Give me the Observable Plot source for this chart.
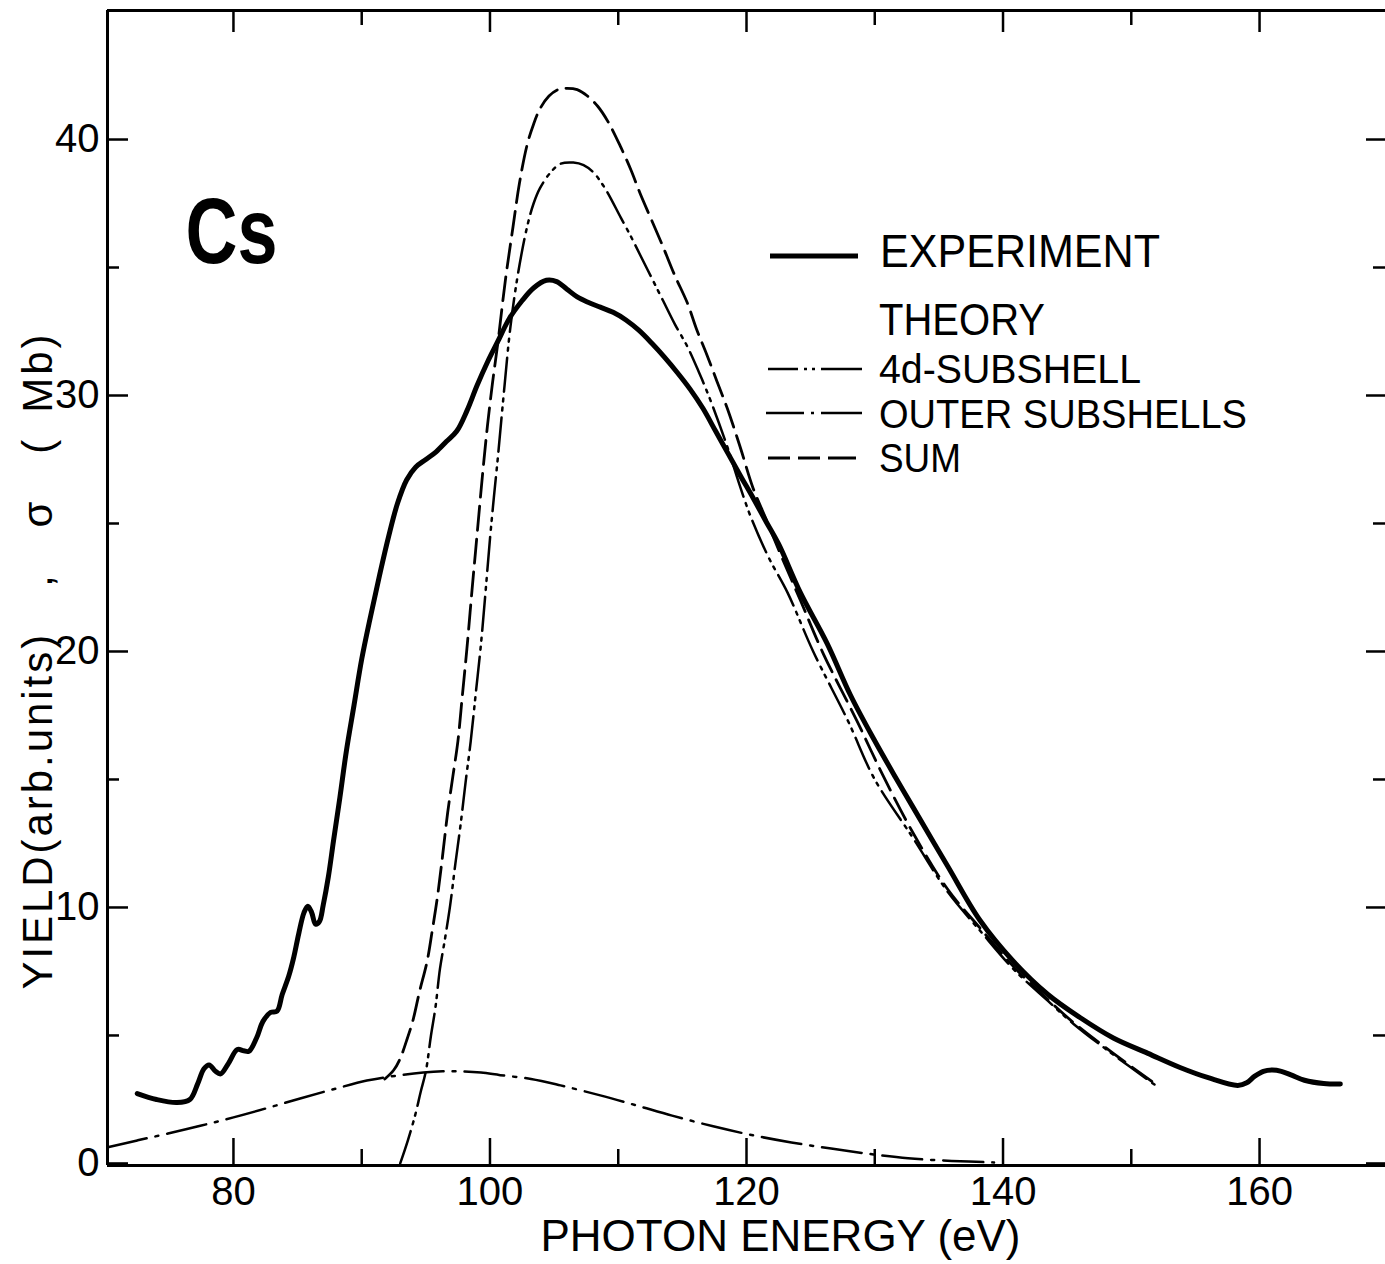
<!DOCTYPE html>
<html>
<head>
<meta charset="utf-8">
<script src="https://cdn.jsdelivr.net/npm/d3@7"></script>
<script src="https://cdn.jsdelivr.net/npm/@observablehq/plot@0.6"></script>
<style>
  html, body { margin: 0; padding: 0; background: #fff; }
  #chart svg { display: block; }
</style>
</head>
<body>
<div id="chart"></div>
<script>
// ---------------- DATA ----------------
// Experiment (photon energy eV, yield)
const expE = [72.5, 74.0, 75.6, 76.6, 77.2, 77.7, 78.1, 78.6, 79.0, 79.6, 80.3, 80.8, 81.2, 81.8, 82.3, 82.9, 83.4, 83.8, 84.3, 84.7, 85.1, 85.5, 85.8, 86.1, 86.4, 86.7, 87.0, 87.4, 87.8, 88.3, 88.8, 89.4, 90.0, 90.7, 91.4, 92.1, 92.8, 93.5, 94.2, 95.0, 95.8, 96.6, 97.4, 98.2, 99.0, 99.8, 100.6, 101.5, 102.5, 103.4, 104.4, 105.2, 106.0, 106.8, 107.6, 108.6, 109.6, 110.6, 111.6, 112.6, 113.6, 114.6, 115.6, 116.6, 117.6, 118.6, 119.6, 120.4, 121.5, 122.5, 124.2, 126.3, 128.1, 129.9, 131.6, 133.0, 135.7, 138.2, 140.8, 143.5, 146.0, 148.6, 151.3, 153.8, 156.0, 158.3, 159.0, 159.6, 160.3, 161.0, 161.7, 162.5, 163.5, 165.0, 166.3];
const expV = [2.73, 2.5, 2.38, 2.5, 3.1, 3.7, 3.85, 3.6, 3.5, 3.9, 4.45, 4.4, 4.38, 4.9, 5.55, 5.9, 5.95, 6.6, 7.3, 8.05, 9.0, 9.8, 10.05, 9.8, 9.35, 9.45, 10.1, 11.2, 12.6, 14.3, 16.1, 17.9, 19.7, 21.4, 23.0, 24.5, 25.8, 26.7, 27.2, 27.5, 27.8, 28.2, 28.6, 29.4, 30.4, 31.3, 32.1, 33.0, 33.7, 34.2, 34.5, 34.45, 34.15, 33.85, 33.65, 33.45, 33.25, 32.95, 32.55, 32.05, 31.5, 30.9, 30.25, 29.5, 28.6, 27.7, 26.8, 26.1, 25.1, 24.2, 22.3, 20.3, 18.3, 16.6, 15.1, 13.9, 11.6, 9.5, 7.9, 6.6, 5.7, 4.9, 4.3, 3.75, 3.35, 3.05, 3.15, 3.4, 3.6, 3.65, 3.6, 3.45, 3.25, 3.12, 3.1];

// Theory: 4d-subshell
const d4E = [93.0, 93.6, 94.2, 94.6, 95.0, 95.4, 95.75, 96.1, 96.5, 96.9, 97.3, 97.7, 98.1, 98.5, 98.9, 99.3, 99.65, 100.0, 100.3, 100.6, 101.1, 101.6, 102.2, 102.9, 103.4, 103.9, 104.7, 105.5, 106.5, 107.3, 108.1, 108.7, 109.2, 110.2, 111.0, 111.7, 112.6, 113.5, 114.4, 115.4, 116.3, 117.2, 118.5, 119.4, 120.3, 121.7, 123.2, 125.2, 127.9, 130.0, 133.0, 135.7, 138.2, 140.8, 143.5, 145.5, 148.6, 151.9];
const d4V = [0, 0.9, 1.95, 2.8, 3.6, 5.0, 6.1, 7.6, 8.8, 10.1, 11.7, 13.2, 14.9, 16.5, 18.4, 20.3, 22.3, 24.4, 26.0, 27.5, 30.2, 32.7, 34.8, 36.6, 37.5, 38.1, 38.7, 39.05, 39.1, 39.0, 38.7, 38.3, 37.9, 36.95, 36.2, 35.5, 34.6, 33.7, 32.8, 31.9, 30.9, 29.8, 28.0, 26.6, 25.3, 23.7, 22.3, 20.0, 17.3, 15.0, 12.7, 10.6, 9.1, 7.6, 6.35, 5.45, 4.25, 3.05];

// Theory: outer subshells
const outE = [70.2, 72.5, 74.9, 77.5, 80.0, 82.6, 85.2, 87.8, 90.4, 92.6, 94.8, 96.3, 97.7, 99.3, 100.8, 103.2, 105.5, 108.6, 111.4, 114.2, 117.4, 120.5, 123.5, 126.6, 129.6, 132.6, 136.0, 139.3];
const outV = [0.63, 0.9, 1.17, 1.48, 1.8, 2.16, 2.54, 2.9, 3.24, 3.42, 3.55, 3.6, 3.6, 3.55, 3.45, 3.3, 3.05, 2.66, 2.27, 1.87, 1.45, 1.1, 0.82, 0.58, 0.37, 0.2, 0.1, 0.04];

// Theory: sum
const sumE = [91.8, 92.5, 93.0, 93.5, 94.0, 94.5, 95.1, 95.5, 95.9, 96.3, 96.7, 97.1, 97.5, 97.85, 98.2, 98.6, 99.0, 99.4, 99.8, 100.2, 100.6, 101.2, 101.8, 102.3, 102.9, 103.4, 103.9, 104.6, 105.3, 106.0, 106.8, 107.6, 108.4, 109.2, 110.2, 111.0, 111.7, 112.6, 113.5, 114.4, 115.4, 116.1, 116.9, 117.7, 118.5, 119.5, 120.5, 121.5, 122.4, 124.2, 126.0, 128.6, 130.6, 133.0, 135.7, 138.2, 140.8, 143.5, 145.5, 148.6, 151.9];
const sumV = [3.3, 3.65, 4.1, 4.8, 5.6, 6.7, 7.9, 9.1, 10.4, 12.0, 13.7, 15.1, 16.5, 18.3, 20.1, 22.4, 24.6, 26.8, 28.8, 30.5, 32.0, 34.5, 36.6, 38.3, 39.8, 40.6, 41.2, 41.7, 41.95, 42.0, 41.95, 41.7, 41.3, 40.7, 39.7, 38.8, 37.9, 36.85, 35.8, 34.7, 33.6, 32.6, 31.6, 30.55, 29.5, 28.0, 26.4, 25.2, 24.1, 22.0, 19.9, 17.3, 15.2, 12.9, 10.7, 9.2, 7.7, 6.4, 5.5, 4.3, 3.1];

// Axes
const xTicksMajor = [80, 100, 120, 140, 160];
const xTicksMinor = [90, 110, 130, 150];
const yTicksMajor = [0, 10, 20, 30, 40];
const yTicksMinor = [5, 15, 25, 35];
const xDomain = [70.18, 169.82];
const yDomain = [-0.08, 45.04];

// Texts
const elementLabel = "Cs";
const xLabel = "PHOTON ENERGY (eV)";
const yLabel = "YIELD(arb.units)\u2003,\u2003σ\u2003(\u2002Mb)";
const legendLabels = ["EXPERIMENT", "THEORY", "4d-SUBSHELL", "OUTER SUBSHELLS", "SUM"];

// ---------------- LAYOUT / STYLE ----------------
const FONT = "'Liberation Sans', Arial, sans-serif";
const W = 1385, H = 1264;
const M = {left: 107, right: 0, top: 10, bottom: 99};
const plotW = W - M.left - M.right;
const plotH = H - M.top - M.bottom;
const DASH = {exp: null, d4: "34,7,3,6,3,7", out: "40,9,3,9", sum: "24,9"};

const rows = (E, V) => E.map((e, i) => ({e, v: V[i]}));
const expRows = rows(expE, expV);
const d4Rows = rows(d4E, d4V);
const outRows = rows(outE, outV);
const sumRows = rows(sumE, sumV);

const chart = Plot.plot({
  width: W, height: H,
  marginLeft: M.left, marginRight: M.right, marginTop: M.top, marginBottom: M.bottom,
  x: {domain: xDomain},
  y: {domain: yDomain},
  style: {fontFamily: FONT, color: "#000", background: "#fff", overflow: "visible"},
  marks: [
    // frame (left, top, bottom)
    Plot.ruleX([xDomain[0]], {stroke: "#000", strokeWidth: 3}),
    Plot.ruleY([yDomain[1]], {stroke: "#000", strokeWidth: 3}),
    Plot.ruleY([yDomain[0]], {stroke: "#000", strokeWidth: 3}),
    // inward ticks: bottom
    Plot.tickX(xTicksMajor, {x: d => d, insetTop: plotH - 27, stroke: "#000", strokeWidth: 2.5}),
    Plot.tickX(xTicksMinor, {x: d => d, insetTop: plotH - 16, stroke: "#000", strokeWidth: 2.5}),
    // top
    Plot.tickX(xTicksMajor, {x: d => d, insetBottom: plotH - 22, stroke: "#000", strokeWidth: 2.5}),
    Plot.tickX(xTicksMinor, {x: d => d, insetBottom: plotH - 15, stroke: "#000", strokeWidth: 2.5}),
    // left
    Plot.tickY(yTicksMajor, {y: d => d, insetRight: plotW - 21, stroke: "#000", strokeWidth: 2.5}),
    Plot.tickY(yTicksMinor, {y: d => d, insetRight: plotW - 12, stroke: "#000", strokeWidth: 2.5}),
    // right
    Plot.tickY(yTicksMajor, {y: d => d, insetLeft: plotW - 19, stroke: "#000", strokeWidth: 2.5}),
    Plot.tickY(yTicksMinor, {y: d => d, insetLeft: plotW - 12, stroke: "#000", strokeWidth: 2.5}),
    // tick labels
    Plot.axisX({ticks: xTicksMajor, tickSize: 0, tickPadding: 11, fontSize: 40, label: null}),
    Plot.axisY({ticks: yTicksMajor, tickSize: 0, tickPadding: 8, fontSize: 40, label: null}),
    // curves
    Plot.line(outRows, {x: "e", y: "v", stroke: "#000", strokeWidth: 2.5, strokeDasharray: DASH.out, curve: "catmull-rom"}),
    Plot.line(d4Rows, {x: "e", y: "v", stroke: "#000", strokeWidth: 2.5, strokeDasharray: DASH.d4, curve: "catmull-rom"}),
    Plot.line(sumRows, {x: "e", y: "v", stroke: "#000", strokeWidth: 2.8, strokeDasharray: DASH.sum, curve: "catmull-rom"}),
    Plot.line(expRows, {x: "e", y: "v", stroke: "#000", strokeWidth: 5, strokeLinejoin: "round", strokeLinecap: "round", curve: "catmull-rom"}),
    // texts
    Plot.text([elementLabel], {frameAnchor: "top-left", dx: 78, dy: 187, lineAnchor: "top", textAnchor: "start", fontSize: 92, fontWeight: "bold"}),
    Plot.text([xLabel], {frameAnchor: "bottom", dx: 34, dy: 54, lineAnchor: "top", textAnchor: "middle", fontSize: 44}),
    Plot.text([yLabel], {frameAnchor: "left", rotate: -90, dx: -69, dy: 74, lineAnchor: "middle", textAnchor: "middle", fontSize: 42})
  ]
});

document.getElementById("chart").appendChild(chart);

// fit widths of the hand-lettered labels
const svg = d3.select(chart);
const fitText = (content, len, adjust) => {
  svg.selectAll("text").filter(function () { return this.textContent === content; })
    .attr("textLength", len).attr("lengthAdjust", adjust);
};
fitText(elementLabel, 92, "spacingAndGlyphs");
fitText(xLabel, 480, "spacingAndGlyphs");
fitText(yLabel, 655, "spacing");

// ---------------- LEGEND (drawn in pixel space on top of the plot) ----------------
const legendLayout = [
  {sx: 770, ex: 858, sy: 256, tx: 880, ty: 267, fs: 46, len: 280, sw: 5, dash: DASH.exp},
  {sx: null, tx: 879, ty: 335, fs: 45, len: 166},
  {sx: 768, ex: 862, sy: 369, tx: 879, ty: 383, fs: 40, len: 262, sw: 2.5, dash: "30,6,3,5,3,6,60"},
  {sx: 766, ex: 862, sy: 413, tx: 879, ty: 428, fs: 40, len: 368, sw: 2.5, dash: "38,7,3,7,60"},
  {sx: 768, ex: 856, sy: 458, tx: 879, ty: 472, fs: 40, len: 82, sw: 2.8, dash: "22,8,22,8,30"}
];
const lg = svg.append("g").attr("font-family", FONT).attr("fill", "#000").attr("text-anchor", "start");
legendLabels.forEach((label, i) => {
  const L = legendLayout[i];
  if (L.sx != null) {
    lg.append("line").attr("x1", L.sx).attr("x2", L.ex).attr("y1", L.sy).attr("y2", L.sy)
      .attr("stroke", "#000").attr("stroke-width", L.sw)
      .attr("stroke-dasharray", L.dash);
  }
  lg.append("text").attr("x", L.tx).attr("y", L.ty).attr("font-size", L.fs)
    .attr("text-anchor", "start")
    .attr("textLength", L.len).attr("lengthAdjust", "spacingAndGlyphs").text(label);
});
</script>
</body>
</html>
